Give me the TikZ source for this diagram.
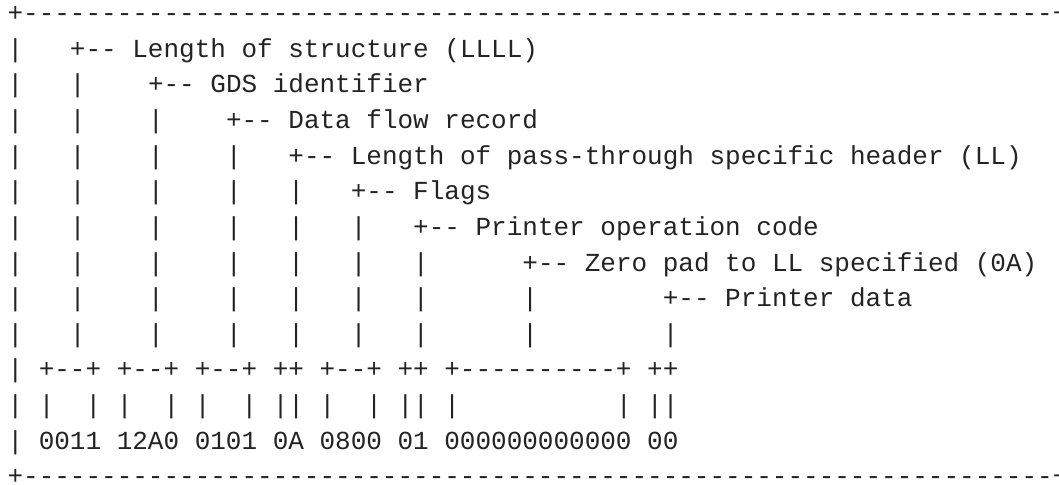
\documentclass[tikz,border=0pt]{standalone}
\usepackage{fontspec}
\setmonofont{Liberation Mono}
\definecolor{ink}{HTML}{232323}
\newcommand\dashes[1]{\foreach \i in {1,...,#1}{-}}
\tikzset{
	ascii/.style={font=\ttfamily\fontsize{13pt}{17pt}\selectfont, text=ink, inner sep=0pt, anchor=base west}
}

\begin{document}
\begin{tikzpicture}[x=7.8pt, y=-17.8pt]
	%%%%% START %%%%%
	\useasboundingbox (-0.4615, -0.6124) rectangle (67.423, 13.011);
	
	% frame
	\node[ascii] (top) at (0, 0) {+\dashes{66}+};
	\node[ascii] (bottom) at (0, 13) {+\dashes{66}+};
	\foreach \r in {1,...,12} {
		\node[ascii] (left-\r) at (0, \r) {|};
		\node[ascii] (right-\r) at (67, \r) {|};
	}
	
	% field labels
	\node[ascii] (lenstruct) at (4, 1) {+-- Length of structure (LLLL)};
	\node[ascii] (gdsid) at (9, 2) {+-- GDS identifier};
	\node[ascii] (dataflow) at (14, 3) {+-- Data flow record};
	\node[ascii] (lenhdr) at (18, 4) {+-- Length of pass-through specific header (LL)};
	\node[ascii] (flags) at (22, 5) {+-- Flags};
	\node[ascii] (opcode) at (26, 6) {+-- Printer operation code};
	\node[ascii] (zeropad) at (33, 7) {+-- Zero pad to LL specified (0A)};
	\node[ascii] (prtdata) at (42, 8) {+-- Printer data};
	
	% leader bars: column / first row
	\foreach \c/\f in {4/2, 9/3, 14/4, 18/5, 22/6, 26/7, 33/8, 42/9} {
		\foreach \r in {\f,...,9}
			\node[ascii] (bar-\c-\r) at (\c, \r) {|};
	}
	
	% brackets over the bytes
	\node[ascii] (brackets) at (2, 10) {+--+ +--+ +--+ ++ +--+ ++ +\dashes{10}+ ++};
	\foreach \c in {2,5,7,10,12,15,17,18,20,23,25,26,28,39,41,42}
		\node[ascii] (tick-\c) at (\c, 11) {|};
	\node[ascii] (bytes) at (2, 12) {0011 12A0 0101 0A 0800 01 000000000000 00};
	
	%%%%% END %%%%%
\end{tikzpicture}
\end{document}
